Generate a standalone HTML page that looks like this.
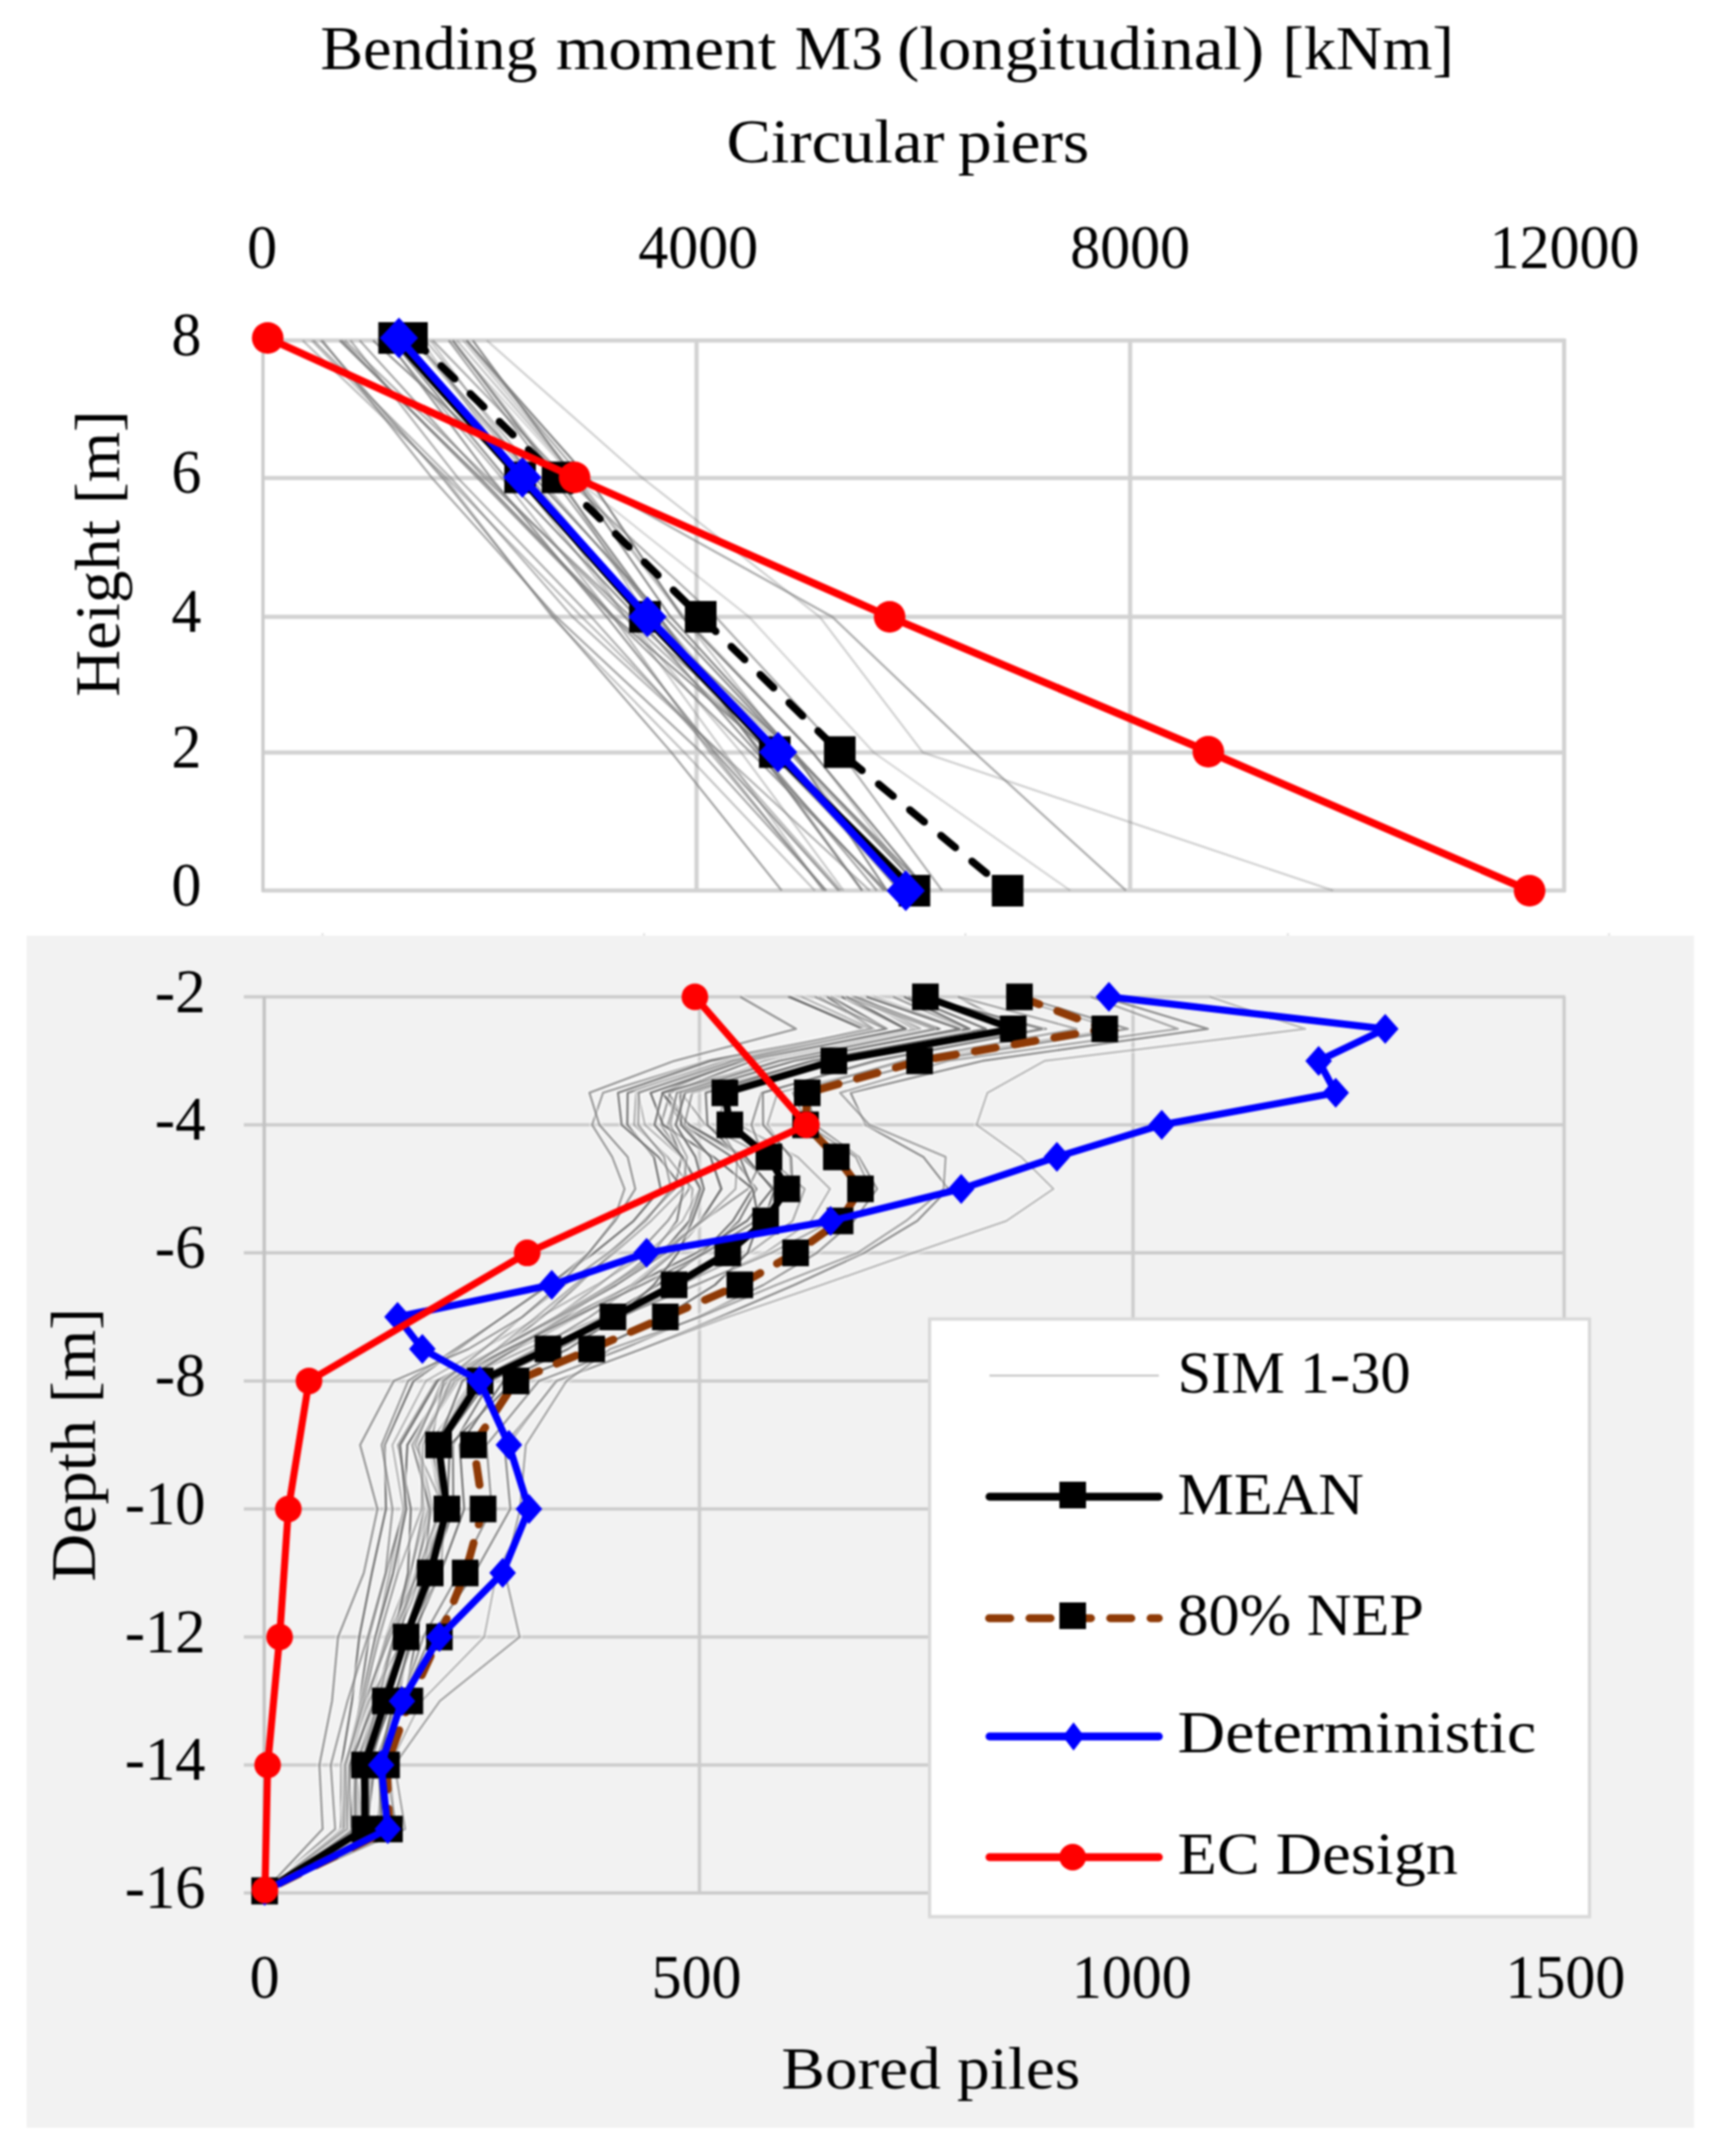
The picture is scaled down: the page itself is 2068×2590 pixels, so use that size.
<!DOCTYPE html><html><head><meta charset="utf-8"><title>Bending moment M3</title><style>html,body{margin:0;padding:0;background:#fff}svg{display:block;filter:blur(0.8px)}text{font-family:"Liberation Serif",serif;fill:#000}</style></head><body>
<svg width="2068" height="2590" viewBox="0 0 2068 2590">
<rect width="2068" height="2590" fill="#fff"/>
<rect x="32" y="1124" width="2003.5" height="1432" fill="#f2f2f2"/>
<rect x="386.5" y="1121" width="2" height="3" fill="#dcdcdc"/>
<rect x="773" y="1121" width="2" height="3" fill="#dcdcdc"/>
<rect x="1159" y="1121" width="2" height="3" fill="#dcdcdc"/>
<rect x="1546.5" y="1121" width="2" height="3" fill="#dcdcdc"/>
<rect x="1932.5" y="1121" width="2" height="3" fill="#dcdcdc"/>
<line x1="316" y1="409" x2="1881.0" y2="409" stroke="#d2d2d2" stroke-width="5"/>
<line x1="316" y1="574.3" x2="1881.0" y2="574.3" stroke="#d2d2d2" stroke-width="5"/>
<line x1="316" y1="741" x2="1881.0" y2="741" stroke="#d2d2d2" stroke-width="5"/>
<line x1="316" y1="904" x2="1881.0" y2="904" stroke="#d2d2d2" stroke-width="5"/>
<line x1="316" y1="1069.8" x2="1881.0" y2="1069.8" stroke="#d2d2d2" stroke-width="5"/>
<line x1="316" y1="407" x2="316" y2="1071.8" stroke="#cccccc" stroke-width="4"/>
<line x1="837" y1="407" x2="837" y2="1071.8" stroke="#d2d2d2" stroke-width="5"/>
<line x1="1358" y1="407" x2="1358" y2="1071.8" stroke="#d2d2d2" stroke-width="5"/>
<line x1="1879.5" y1="407" x2="1879.5" y2="1071.8" stroke="#d2d2d2" stroke-width="5"/>
<line x1="293" y1="1197.5" x2="1881.0" y2="1197.5" stroke="#cccccc" stroke-width="4"/>
<line x1="293" y1="1351.3" x2="1881.0" y2="1351.3" stroke="#cccccc" stroke-width="4"/>
<line x1="293" y1="1505.1" x2="1881.0" y2="1505.1" stroke="#cccccc" stroke-width="4"/>
<line x1="293" y1="1658.9" x2="1881.0" y2="1658.9" stroke="#cccccc" stroke-width="4"/>
<line x1="293" y1="1812.7" x2="1881.0" y2="1812.7" stroke="#cccccc" stroke-width="4"/>
<line x1="293" y1="1966.5" x2="1881.0" y2="1966.5" stroke="#cccccc" stroke-width="4"/>
<line x1="293" y1="2120.3" x2="1881.0" y2="2120.3" stroke="#cccccc" stroke-width="4"/>
<line x1="293" y1="2274.1000000000004" x2="1881.0" y2="2274.1000000000004" stroke="#cccccc" stroke-width="4"/>
<line x1="317.5" y1="1197.5" x2="317.5" y2="2274.1000000000004" stroke="#c2c2c2" stroke-width="4"/>
<line x1="840.5" y1="1197.5" x2="840.5" y2="2274.1000000000004" stroke="#cccccc" stroke-width="4"/>
<line x1="1361.5" y1="1197.5" x2="1361.5" y2="2274.1000000000004" stroke="#cccccc" stroke-width="4"/>
<line x1="1879.5" y1="1197.5" x2="1879.5" y2="2274.1000000000004" stroke="#cccccc" stroke-width="4"/>
<g stroke-linejoin="round" stroke-linecap="butt">
<polyline points="498.8,409.0 642.7,574.3 798.1,741.0 951.3,904.0 1115.3,1069.8" fill="none" stroke="#7a7a7a" stroke-width="2.6" stroke-opacity="0.80"/>
<polyline points="539.2,409.0 663.9,574.3 789.4,741.0 914.7,904.0 1053.7,1069.8" fill="none" stroke="#7a7a7a" stroke-width="2.6" stroke-opacity="0.65"/>
<polyline points="556.4,409.0 693.6,574.3 822.3,741.0 977.1,904.0 1104.6,1069.8" fill="none" stroke="#7a7a7a" stroke-width="2.6" stroke-opacity="0.37"/>
<polyline points="363.7,409.0 537.1,574.3 699.0,741.0 864.8,904.0 1010.6,1069.8" fill="none" stroke="#7a7a7a" stroke-width="2.6" stroke-opacity="0.49"/>
<polyline points="374.4,409.0 534.7,574.3 663.3,741.0 822.4,904.0 979.2,1069.8" fill="none" stroke="#7a7a7a" stroke-width="2.6" stroke-opacity="0.43"/>
<polyline points="432.2,409.0 582.4,574.3 757.9,741.0 940.0,904.0 1080.7,1069.8" fill="none" stroke="#7a7a7a" stroke-width="2.6" stroke-opacity="0.65"/>
<polyline points="496.4,409.0 637.9,574.3 775.0,741.0 947.8,904.0 1110.1,1069.8" fill="none" stroke="#7a7a7a" stroke-width="2.6" stroke-opacity="0.43"/>
<polyline points="544.6,409.0 673.1,574.3 777.6,741.0 915.8,904.0 1036.5,1069.8" fill="none" stroke="#7a7a7a" stroke-width="2.6" stroke-opacity="0.43"/>
<polyline points="463.5,409.0 603.0,574.3 736.9,741.0 853.1,904.0 992.6,1069.8" fill="none" stroke="#7a7a7a" stroke-width="2.6" stroke-opacity="0.52"/>
<polyline points="549.0,409.0 692.0,574.3 819.7,741.0 950.1,904.0 1085.7,1069.8" fill="none" stroke="#7a7a7a" stroke-width="2.6" stroke-opacity="0.43"/>
<polyline points="414.2,409.0 586.6,574.3 750.8,741.0 925.3,904.0 1088.6,1069.8" fill="none" stroke="#7a7a7a" stroke-width="2.6" stroke-opacity="0.56"/>
<polyline points="465.4,409.0 590.1,574.3 729.0,741.0 859.4,904.0 1007.8,1069.8" fill="none" stroke="#7a7a7a" stroke-width="2.6" stroke-opacity="0.76"/>
<polyline points="387.4,409.0 519.3,574.3 668.4,741.0 842.9,904.0 992.8,1069.8" fill="none" stroke="#7a7a7a" stroke-width="2.6" stroke-opacity="0.64"/>
<polyline points="544.0,409.0 669.5,574.3 792.2,741.0 912.9,904.0 1035.9,1069.8" fill="none" stroke="#7a7a7a" stroke-width="2.6" stroke-opacity="0.85"/>
<polyline points="408.1,409.0 577.4,574.3 737.8,741.0 926.5,904.0 1089.8,1069.8" fill="none" stroke="#7a7a7a" stroke-width="2.6" stroke-opacity="0.80"/>
<polyline points="376.9,409.0 542.0,574.3 688.1,741.0 865.5,904.0 1045.0,1069.8" fill="none" stroke="#7a7a7a" stroke-width="2.6" stroke-opacity="0.55"/>
<polyline points="421.2,409.0 550.3,574.3 710.4,741.0 856.8,904.0 990.4,1069.8" fill="none" stroke="#7a7a7a" stroke-width="2.6" stroke-opacity="0.59"/>
<polyline points="568.1,409.0 690.2,574.3 805.9,741.0 954.3,904.0 1065.7,1069.8" fill="none" stroke="#7a7a7a" stroke-width="2.6" stroke-opacity="0.83"/>
<polyline points="448.2,409.0 629.2,574.3 776.8,741.0 953.8,904.0 1108.6,1069.8" fill="none" stroke="#7a7a7a" stroke-width="2.6" stroke-opacity="0.79"/>
<polyline points="511.4,409.0 648.2,574.3 791.2,741.0 930.5,904.0 1081.0,1069.8" fill="none" stroke="#7a7a7a" stroke-width="2.6" stroke-opacity="0.47"/>
<polyline points="561.0,409.0 707.1,574.3 819.8,741.0 976.3,904.0 1114.1,1069.8" fill="none" stroke="#7a7a7a" stroke-width="2.6" stroke-opacity="0.88"/>
<polyline points="470.9,409.0 607.9,574.3 765.1,741.0 909.3,904.0 1062.4,1069.8" fill="none" stroke="#7a7a7a" stroke-width="2.6" stroke-opacity="0.80"/>
<polyline points="517.2,409.0 638.4,574.3 751.4,741.0 870.4,904.0 988.9,1069.8" fill="none" stroke="#7a7a7a" stroke-width="2.6" stroke-opacity="0.38"/>
<polyline points="385.5,409.0 531.7,574.3 665.1,741.0 806.9,904.0 939.3,1069.8" fill="none" stroke="#7a7a7a" stroke-width="2.6" stroke-opacity="0.67"/>
<polyline points="410.5,409.0 574.0,574.3 735.5,741.0 902.1,904.0 1065.3,1069.8" fill="none" stroke="#7a7a7a" stroke-width="2.6" stroke-opacity="0.71"/>
<polyline points="506.3,409.0 624.4,574.3 751.3,741.0 890.6,904.0 1013.6,1069.8" fill="none" stroke="#7a7a7a" stroke-width="2.6" stroke-opacity="0.38"/>
<polyline points="585.0,409.0 772.0,574.3 985.0,741.0 1109.0,904.0 1602.0,1069.8" fill="none" stroke="#7a7a7a" stroke-width="2.6" stroke-opacity="0.35"/>
<polyline points="560.0,409.0 700.0,574.3 1000.0,741.0 1171.0,904.0 1353.0,1069.8" fill="none" stroke="#7a7a7a" stroke-width="2.6" stroke-opacity="0.60"/>
<polyline points="540.0,409.0 690.0,574.3 900.0,741.0 1050.0,904.0 1286.0,1069.8" fill="none" stroke="#7a7a7a" stroke-width="2.6" stroke-opacity="0.30"/>
<polyline points="520.0,409.0 680.0,574.3 860.0,741.0 1010.0,904.0 1132.0,1069.8" fill="none" stroke="#7a7a7a" stroke-width="2.6" stroke-opacity="0.60"/>
</g>
<polyline points="473.6,406.0 625.0,573.5 775.0,741.0 931.0,903.5 1098.8,1070.0" fill="none" stroke="#000" stroke-width="9" stroke-linejoin="round"/>
<rect x="454.6" y="387.0" width="38" height="38" fill="#000"/>
<rect x="606.0" y="554.5" width="38" height="38" fill="#000"/>
<rect x="756.0" y="722.0" width="38" height="38" fill="#000"/>
<rect x="912.0" y="884.5" width="38" height="38" fill="#000"/>
<rect x="1079.8" y="1051.0" width="38" height="38" fill="#000"/>
<polyline points="495.0,406.0 670.0,573.5 842.0,741.0 1009.1,903.5 1210.8,1070.0" fill="none" stroke="#000" stroke-width="9" stroke-linecap="round" stroke-dasharray="22.5 26"/>
<rect x="476.0" y="387.0" width="38" height="38" fill="#000"/>
<rect x="651.0" y="554.5" width="38" height="38" fill="#000"/>
<rect x="823.0" y="722.0" width="38" height="38" fill="#000"/>
<rect x="990.1" y="884.5" width="38" height="38" fill="#000"/>
<rect x="1191.8" y="1051.0" width="38" height="38" fill="#000"/>
<polyline points="479.4,406.0 627.7,573.5 778.0,741.0 935.0,903.5 1088.4,1070.0" fill="none" stroke="#0000ff" stroke-width="9" stroke-linejoin="round"/>
<polygon points="479.4,381.5 502.4,406.0 479.4,430.5 456.4,406.0" fill="#0000ff"/>
<polygon points="627.7,549.0 650.7,573.5 627.7,598.0 604.7,573.5" fill="#0000ff"/>
<polygon points="778.0,716.5 801.0,741.0 778.0,765.5 755.0,741.0" fill="#0000ff"/>
<polygon points="935.0,879.0 958.0,903.5 935.0,928.0 912.0,903.5" fill="#0000ff"/>
<polygon points="1088.4,1045.5 1111.4,1070.0 1088.4,1094.5 1065.4,1070.0" fill="#0000ff"/>
<polyline points="321.7,406.0 690.4,573.5 1069.0,741.0 1452.0,903.0 1838.0,1070.0" fill="none" stroke="#ff0000" stroke-width="9" stroke-linejoin="round"/>
<circle cx="321.7" cy="406.0" r="19" fill="#ff0000"/>
<circle cx="690.4" cy="573.5" r="19" fill="#ff0000"/>
<circle cx="1069.0" cy="741.0" r="19" fill="#ff0000"/>
<circle cx="1452.0" cy="903.0" r="19" fill="#ff0000"/>
<circle cx="1838.0" cy="1070.0" r="19" fill="#ff0000"/>
<g stroke-linejoin="round">
<polyline points="997.9,1197.5 1066.1,1236.0 869.6,1274.4 754.2,1312.8 753.8,1351.3 785.8,1389.8 793.9,1428.2 761.3,1466.7 713.9,1505.1 658.4,1543.5 604.0,1582.0 551.3,1620.5 496.9,1658.9 462.3,1735.8 463.8,1812.7 446.9,1889.6 431.7,1966.5 423.0,2043.4 410.2,2120.3 409.9,2197.2 318.0,2271.5" fill="none" stroke="#fff" stroke-width="7" stroke-opacity="0.4"/>
<polyline points="997.9,1197.5 1066.1,1236.0 869.6,1274.4 754.2,1312.8 753.8,1351.3 785.8,1389.8 793.9,1428.2 761.3,1466.7 713.9,1505.1 658.4,1543.5 604.0,1582.0 551.3,1620.5 496.9,1658.9 462.3,1735.8 463.8,1812.7 446.9,1889.6 431.7,1966.5 423.0,2043.4 410.2,2120.3 409.9,2197.2 318.0,2271.5" fill="none" stroke="#686868" stroke-width="2.6" stroke-opacity="0.90"/>
<polyline points="1050.2,1197.5 1157.6,1236.0 968.7,1274.4 860.5,1312.8 887.8,1351.3 958.4,1389.8 997.4,1428.2 974.7,1466.7 919.5,1505.1 837.8,1543.5 746.4,1582.0 655.0,1620.5 567.4,1658.9 515.4,1735.8 530.6,1812.7 520.4,1889.6 491.0,1966.5 453.9,2043.4 418.7,2120.3 408.8,2197.2 318.0,2271.5" fill="none" stroke="#fff" stroke-width="7" stroke-opacity="0.4"/>
<polyline points="1050.2,1197.5 1157.6,1236.0 968.7,1274.4 860.5,1312.8 887.8,1351.3 958.4,1389.8 997.4,1428.2 974.7,1466.7 919.5,1505.1 837.8,1543.5 746.4,1582.0 655.0,1620.5 567.4,1658.9 515.4,1735.8 530.6,1812.7 520.4,1889.6 491.0,1966.5 453.9,2043.4 418.7,2120.3 408.8,2197.2 318.0,2271.5" fill="none" stroke="#686868" stroke-width="2.6" stroke-opacity="0.46"/>
<polyline points="1011.2,1197.5 1087.6,1236.0 904.4,1274.4 803.1,1312.8 826.6,1351.3 891.2,1389.8 930.7,1428.2 918.2,1466.7 879.7,1505.1 819.2,1543.5 747.9,1582.0 670.1,1620.5 586.0,1658.9 530.2,1735.8 534.3,1812.7 508.8,1889.6 476.6,1966.5 450.4,2043.4 427.7,2120.3 436.2,2197.2 318.0,2271.5" fill="none" stroke="#fff" stroke-width="7" stroke-opacity="0.4"/>
<polyline points="1011.2,1197.5 1087.6,1236.0 904.4,1274.4 803.1,1312.8 826.6,1351.3 891.2,1389.8 930.7,1428.2 918.2,1466.7 879.7,1505.1 819.2,1543.5 747.9,1582.0 670.1,1620.5 586.0,1658.9 530.2,1735.8 534.3,1812.7 508.8,1889.6 476.6,1966.5 450.4,2043.4 427.7,2120.3 436.2,2197.2 318.0,2271.5" fill="none" stroke="#686868" stroke-width="2.6" stroke-opacity="0.87"/>
<polyline points="947.0,1197.5 1042.0,1236.0 885.9,1274.4 795.9,1312.8 820.7,1351.3 879.7,1389.8 909.1,1428.2 888.0,1466.7 846.6,1505.1 790.0,1543.5 728.7,1582.0 663.3,1620.5 590.1,1658.9 544.2,1735.8 544.8,1812.7 519.2,1889.6 500.3,1966.5 485.9,2043.4 460.3,2120.3 456.7,2197.2 318.0,2271.5" fill="none" stroke="#fff" stroke-width="7" stroke-opacity="0.4"/>
<polyline points="947.0,1197.5 1042.0,1236.0 885.9,1274.4 795.9,1312.8 820.7,1351.3 879.7,1389.8 909.1,1428.2 888.0,1466.7 846.6,1505.1 790.0,1543.5 728.7,1582.0 663.3,1620.5 590.1,1658.9 544.2,1735.8 544.8,1812.7 519.2,1889.6 500.3,1966.5 485.9,2043.4 460.3,2120.3 456.7,2197.2 318.0,2271.5" fill="none" stroke="#686868" stroke-width="2.6" stroke-opacity="0.84"/>
<polyline points="1213.4,1197.5 1341.5,1236.0 1093.7,1274.4 934.2,1312.8 922.0,1351.3 949.0,1389.8 950.7,1428.2 914.7,1466.7 870.0,1505.1 811.6,1543.5 741.8,1582.0 662.4,1620.5 576.6,1658.9 519.8,1735.8 526.5,1812.7 507.2,1889.6 477.1,1966.5 448.1,2043.4 421.6,2120.3 422.7,2197.2 318.0,2271.5" fill="none" stroke="#fff" stroke-width="7" stroke-opacity="0.4"/>
<polyline points="1213.4,1197.5 1341.5,1236.0 1093.7,1274.4 934.2,1312.8 922.0,1351.3 949.0,1389.8 950.7,1428.2 914.7,1466.7 870.0,1505.1 811.6,1543.5 741.8,1582.0 662.4,1620.5 576.6,1658.9 519.8,1735.8 526.5,1812.7 507.2,1889.6 477.1,1966.5 448.1,2043.4 421.6,2120.3 422.7,2197.2 318.0,2271.5" fill="none" stroke="#686868" stroke-width="2.6" stroke-opacity="0.49"/>
<polyline points="1073.3,1197.5 1162.0,1236.0 942.1,1274.4 805.1,1312.8 794.1,1351.3 820.2,1389.8 828.0,1428.2 802.4,1466.7 766.7,1505.1 720.4,1543.5 667.7,1582.0 608.1,1620.5 540.0,1658.9 489.5,1735.8 485.8,1812.7 468.1,1889.6 451.5,1966.5 440.7,2043.4 428.4,2120.3 433.4,2197.2 318.0,2271.5" fill="none" stroke="#fff" stroke-width="7" stroke-opacity="0.4"/>
<polyline points="1073.3,1197.5 1162.0,1236.0 942.1,1274.4 805.1,1312.8 794.1,1351.3 820.2,1389.8 828.0,1428.2 802.4,1466.7 766.7,1505.1 720.4,1543.5 667.7,1582.0 608.1,1620.5 540.0,1658.9 489.5,1735.8 485.8,1812.7 468.1,1889.6 451.5,1966.5 440.7,2043.4 428.4,2120.3 433.4,2197.2 318.0,2271.5" fill="none" stroke="#686868" stroke-width="2.6" stroke-opacity="0.64"/>
<polyline points="948.9,1197.5 1037.0,1236.0 880.8,1274.4 795.6,1312.8 828.2,1351.3 896.2,1389.8 928.1,1428.2 897.5,1466.7 837.3,1505.1 760.4,1543.5 683.6,1582.0 611.6,1620.5 541.7,1658.9 503.1,1735.8 515.6,1812.7 499.5,1889.6 479.2,1966.5 465.9,2043.4 446.0,2120.3 440.3,2197.2 318.0,2271.5" fill="none" stroke="#fff" stroke-width="7" stroke-opacity="0.4"/>
<polyline points="948.9,1197.5 1037.0,1236.0 880.8,1274.4 795.6,1312.8 828.2,1351.3 896.2,1389.8 928.1,1428.2 897.5,1466.7 837.3,1505.1 760.4,1543.5 683.6,1582.0 611.6,1620.5 541.7,1658.9 503.1,1735.8 515.6,1812.7 499.5,1889.6 479.2,1966.5 465.9,2043.4 446.0,2120.3 440.3,2197.2 318.0,2271.5" fill="none" stroke="#686868" stroke-width="2.6" stroke-opacity="0.94"/>
<polyline points="1023.6,1197.5 1129.7,1236.0 938.7,1274.4 813.5,1312.8 802.6,1351.3 818.7,1389.8 810.6,1428.2 773.5,1466.7 735.1,1505.1 694.7,1543.5 651.7,1582.0 600.6,1620.5 537.6,1658.9 489.5,1735.8 485.4,1812.7 464.0,1889.6 443.4,1966.5 432.2,2043.4 423.0,2120.3 430.6,2197.2 318.0,2271.5" fill="none" stroke="#fff" stroke-width="7" stroke-opacity="0.4"/>
<polyline points="1023.6,1197.5 1129.7,1236.0 938.7,1274.4 813.5,1312.8 802.6,1351.3 818.7,1389.8 810.6,1428.2 773.5,1466.7 735.1,1505.1 694.7,1543.5 651.7,1582.0 600.6,1620.5 537.6,1658.9 489.5,1735.8 485.4,1812.7 464.0,1889.6 443.4,1966.5 432.2,2043.4 423.0,2120.3 430.6,2197.2 318.0,2271.5" fill="none" stroke="#686868" stroke-width="2.6" stroke-opacity="0.84"/>
<polyline points="1030.0,1197.5 1098.9,1236.0 888.8,1274.4 764.4,1312.8 762.1,1351.3 802.1,1389.8 832.2,1428.2 829.2,1466.7 806.6,1505.1 758.8,1543.5 694.1,1582.0 621.2,1620.5 546.1,1658.9 503.6,1735.8 519.5,1812.7 499.0,1889.6 465.8,1966.5 444.9,2043.4 426.2,2120.3 426.1,2197.2 318.0,2271.5" fill="none" stroke="#fff" stroke-width="7" stroke-opacity="0.4"/>
<polyline points="1030.0,1197.5 1098.9,1236.0 888.8,1274.4 764.4,1312.8 762.1,1351.3 802.1,1389.8 832.2,1428.2 829.2,1466.7 806.6,1505.1 758.8,1543.5 694.1,1582.0 621.2,1620.5 546.1,1658.9 503.6,1735.8 519.5,1812.7 499.0,1889.6 465.8,1966.5 444.9,2043.4 426.2,2120.3 426.1,2197.2 318.0,2271.5" fill="none" stroke="#686868" stroke-width="2.6" stroke-opacity="0.53"/>
<polyline points="1033.4,1197.5 1106.0,1236.0 919.0,1274.4 818.5,1312.8 847.7,1351.3 920.8,1389.8 967.0,1428.2 952.4,1466.7 900.1,1505.1 817.0,1543.5 723.6,1582.0 633.3,1620.5 550.1,1658.9 503.0,1735.8 514.0,1812.7 492.8,1889.6 463.5,1966.5 441.8,2043.4 420.4,2120.3 419.5,2197.2 318.0,2271.5" fill="none" stroke="#fff" stroke-width="7" stroke-opacity="0.4"/>
<polyline points="1033.4,1197.5 1106.0,1236.0 919.0,1274.4 818.5,1312.8 847.7,1351.3 920.8,1389.8 967.0,1428.2 952.4,1466.7 900.1,1505.1 817.0,1543.5 723.6,1582.0 633.3,1620.5 550.1,1658.9 503.0,1735.8 514.0,1812.7 492.8,1889.6 463.5,1966.5 441.8,2043.4 420.4,2120.3 419.5,2197.2 318.0,2271.5" fill="none" stroke="#686868" stroke-width="2.6" stroke-opacity="0.53"/>
<polyline points="1151.1,1197.5 1222.3,1236.0 977.0,1274.4 831.7,1312.8 822.4,1351.3 853.6,1389.8 865.9,1428.2 843.5,1466.7 810.0,1505.1 763.7,1543.5 708.6,1582.0 644.3,1620.5 570.3,1658.9 521.4,1735.8 529.1,1812.7 512.2,1889.6 484.0,1966.5 454.4,2043.4 427.2,2120.3 429.8,2197.2 318.0,2271.5" fill="none" stroke="#fff" stroke-width="7" stroke-opacity="0.4"/>
<polyline points="1151.1,1197.5 1222.3,1236.0 977.0,1274.4 831.7,1312.8 822.4,1351.3 853.6,1389.8 865.9,1428.2 843.5,1466.7 810.0,1505.1 763.7,1543.5 708.6,1582.0 644.3,1620.5 570.3,1658.9 521.4,1735.8 529.1,1812.7 512.2,1889.6 484.0,1966.5 454.4,2043.4 427.2,2120.3 429.8,2197.2 318.0,2271.5" fill="none" stroke="#686868" stroke-width="2.6" stroke-opacity="0.63"/>
<polyline points="984.6,1197.5 1050.6,1236.0 848.9,1274.4 724.6,1312.8 711.5,1351.3 735.6,1389.8 750.5,1428.2 737.1,1466.7 707.6,1505.1 660.4,1543.5 604.7,1582.0 547.1,1620.5 490.4,1658.9 458.6,1735.8 471.7,1812.7 463.3,1889.6 441.9,1966.5 417.6,2043.4 397.5,2120.3 402.8,2197.2 318.0,2271.5" fill="none" stroke="#fff" stroke-width="7" stroke-opacity="0.4"/>
<polyline points="984.6,1197.5 1050.6,1236.0 848.9,1274.4 724.6,1312.8 711.5,1351.3 735.6,1389.8 750.5,1428.2 737.1,1466.7 707.6,1505.1 660.4,1543.5 604.7,1582.0 547.1,1620.5 490.4,1658.9 458.6,1735.8 471.7,1812.7 463.3,1889.6 441.9,1966.5 417.6,2043.4 397.5,2120.3 402.8,2197.2 318.0,2271.5" fill="none" stroke="#686868" stroke-width="2.6" stroke-opacity="0.63"/>
<polyline points="1107.2,1197.5 1257.2,1236.0 1055.0,1274.4 914.8,1312.8 902.9,1351.3 917.3,1389.8 898.8,1428.2 844.5,1466.7 789.1,1505.1 732.1,1543.5 674.7,1582.0 613.9,1620.5 546.3,1658.9 503.0,1735.8 509.4,1812.7 493.3,1889.6 473.4,1966.5 453.6,2043.4 427.5,2120.3 422.0,2197.2 318.0,2271.5" fill="none" stroke="#fff" stroke-width="7" stroke-opacity="0.4"/>
<polyline points="1107.2,1197.5 1257.2,1236.0 1055.0,1274.4 914.8,1312.8 902.9,1351.3 917.3,1389.8 898.8,1428.2 844.5,1466.7 789.1,1505.1 732.1,1543.5 674.7,1582.0 613.9,1620.5 546.3,1658.9 503.0,1735.8 509.4,1812.7 493.3,1889.6 473.4,1966.5 453.6,2043.4 427.5,2120.3 422.0,2197.2 318.0,2271.5" fill="none" stroke="#686868" stroke-width="2.6" stroke-opacity="0.66"/>
<polyline points="993.9,1197.5 1049.4,1236.0 853.9,1274.4 742.6,1312.8 747.0,1351.3 791.1,1389.8 821.0,1428.2 813.4,1466.7 784.9,1505.1 736.0,1543.5 678.6,1582.0 618.8,1620.5 555.6,1658.9 525.2,1735.8 535.9,1812.7 502.7,1889.6 465.4,1966.5 439.9,2043.4 418.9,2120.3 422.4,2197.2 318.0,2271.5" fill="none" stroke="#fff" stroke-width="7" stroke-opacity="0.4"/>
<polyline points="993.9,1197.5 1049.4,1236.0 853.9,1274.4 742.6,1312.8 747.0,1351.3 791.1,1389.8 821.0,1428.2 813.4,1466.7 784.9,1505.1 736.0,1543.5 678.6,1582.0 618.8,1620.5 555.6,1658.9 525.2,1735.8 535.9,1812.7 502.7,1889.6 465.4,1966.5 439.9,2043.4 418.9,2120.3 422.4,2197.2 318.0,2271.5" fill="none" stroke="#686868" stroke-width="2.6" stroke-opacity="0.84"/>
<polyline points="963.2,1197.5 1047.0,1236.0 871.7,1274.4 766.7,1312.8 774.9,1351.3 818.3,1389.8 840.6,1428.2 820.2,1466.7 778.1,1505.1 717.2,1543.5 648.8,1582.0 579.5,1620.5 511.9,1658.9 471.5,1735.8 484.7,1812.7 477.3,1889.6 456.6,1966.5 434.6,2043.4 413.4,2120.3 414.9,2197.2 318.0,2271.5" fill="none" stroke="#fff" stroke-width="7" stroke-opacity="0.4"/>
<polyline points="963.2,1197.5 1047.0,1236.0 871.7,1274.4 766.7,1312.8 774.9,1351.3 818.3,1389.8 840.6,1428.2 820.2,1466.7 778.1,1505.1 717.2,1543.5 648.8,1582.0 579.5,1620.5 511.9,1658.9 471.5,1735.8 484.7,1812.7 477.3,1889.6 456.6,1966.5 434.6,2043.4 413.4,2120.3 414.9,2197.2 318.0,2271.5" fill="none" stroke="#686868" stroke-width="2.6" stroke-opacity="0.43"/>
<polyline points="1091.4,1197.5 1184.7,1236.0 975.2,1274.4 848.0,1312.8 850.1,1351.3 888.8,1389.8 904.2,1428.2 880.7,1466.7 843.8,1505.1 790.8,1543.5 726.9,1582.0 654.7,1620.5 576.1,1658.9 527.3,1735.8 534.2,1812.7 513.0,1889.6 492.7,1966.5 477.8,2043.4 449.9,2120.3 441.1,2197.2 318.0,2271.5" fill="none" stroke="#fff" stroke-width="7" stroke-opacity="0.4"/>
<polyline points="1091.4,1197.5 1184.7,1236.0 975.2,1274.4 848.0,1312.8 850.1,1351.3 888.8,1389.8 904.2,1428.2 880.7,1466.7 843.8,1505.1 790.8,1543.5 726.9,1582.0 654.7,1620.5 576.1,1658.9 527.3,1735.8 534.2,1812.7 513.0,1889.6 492.7,1966.5 477.8,2043.4 449.9,2120.3 441.1,2197.2 318.0,2271.5" fill="none" stroke="#686868" stroke-width="2.6" stroke-opacity="0.88"/>
<polyline points="1017.6,1197.5 1088.5,1236.0 892.3,1274.4 781.7,1312.8 796.7,1351.3 857.4,1389.8 904.6,1428.2 911.9,1466.7 898.4,1505.1 859.2,1543.5 797.9,1582.0 715.8,1620.5 617.4,1658.9 540.6,1735.8 537.1,1812.7 520.3,1889.6 497.8,1966.5 470.9,2043.4 441.6,2120.3 443.7,2197.2 318.0,2271.5" fill="none" stroke="#fff" stroke-width="7" stroke-opacity="0.4"/>
<polyline points="1017.6,1197.5 1088.5,1236.0 892.3,1274.4 781.7,1312.8 796.7,1351.3 857.4,1389.8 904.6,1428.2 911.9,1466.7 898.4,1505.1 859.2,1543.5 797.9,1582.0 715.8,1620.5 617.4,1658.9 540.6,1735.8 537.1,1812.7 520.3,1889.6 497.8,1966.5 470.9,2043.4 441.6,2120.3 443.7,2197.2 318.0,2271.5" fill="none" stroke="#686868" stroke-width="2.6" stroke-opacity="0.93"/>
<polyline points="1086.4,1197.5 1165.1,1236.0 935.8,1274.4 796.2,1312.8 786.5,1351.3 820.3,1389.8 841.9,1428.2 828.4,1466.7 795.3,1505.1 739.9,1543.5 671.5,1582.0 597.7,1620.5 523.8,1658.9 478.2,1735.8 493.7,1812.7 490.3,1889.6 473.0,1966.5 450.1,2043.4 420.4,2120.3 416.2,2197.2 318.0,2271.5" fill="none" stroke="#fff" stroke-width="7" stroke-opacity="0.4"/>
<polyline points="1086.4,1197.5 1165.1,1236.0 935.8,1274.4 796.2,1312.8 786.5,1351.3 820.3,1389.8 841.9,1428.2 828.4,1466.7 795.3,1505.1 739.9,1543.5 671.5,1582.0 597.7,1620.5 523.8,1658.9 478.2,1735.8 493.7,1812.7 490.3,1889.6 473.0,1966.5 450.1,2043.4 420.4,2120.3 416.2,2197.2 318.0,2271.5" fill="none" stroke="#686868" stroke-width="2.6" stroke-opacity="0.89"/>
<polyline points="1227.7,1197.5 1355.4,1236.0 1115.8,1274.4 969.7,1312.8 979.2,1351.3 1032.1,1389.8 1053.9,1428.2 1025.9,1466.7 981.6,1505.1 917.5,1543.5 838.9,1582.0 748.1,1620.5 647.7,1658.9 584.6,1735.8 590.9,1812.7 551.8,1889.6 508.6,1966.5 483.5,2043.4 459.2,2120.3 453.8,2197.2 318.0,2271.5" fill="none" stroke="#fff" stroke-width="7" stroke-opacity="0.4"/>
<polyline points="1227.7,1197.5 1355.4,1236.0 1115.8,1274.4 969.7,1312.8 979.2,1351.3 1032.1,1389.8 1053.9,1428.2 1025.9,1466.7 981.6,1505.1 917.5,1543.5 838.9,1582.0 748.1,1620.5 647.7,1658.9 584.6,1735.8 590.9,1812.7 551.8,1889.6 508.6,1966.5 483.5,2043.4 459.2,2120.3 453.8,2197.2 318.0,2271.5" fill="none" stroke="#686868" stroke-width="2.6" stroke-opacity="0.68"/>
<polyline points="1026.4,1197.5 1127.8,1236.0 937.1,1274.4 817.5,1312.8 818.4,1351.3 853.8,1389.8 867.0,1428.2 841.5,1466.7 799.8,1505.1 740.4,1543.5 671.2,1582.0 598.4,1620.5 525.9,1658.9 480.8,1735.8 488.2,1812.7 472.4,1889.6 451.0,1966.5 434.4,2043.4 414.8,2120.3 414.6,2197.2 318.0,2271.5" fill="none" stroke="#fff" stroke-width="7" stroke-opacity="0.4"/>
<polyline points="1026.4,1197.5 1127.8,1236.0 937.1,1274.4 817.5,1312.8 818.4,1351.3 853.8,1389.8 867.0,1428.2 841.5,1466.7 799.8,1505.1 740.4,1543.5 671.2,1582.0 598.4,1620.5 525.9,1658.9 480.8,1735.8 488.2,1812.7 472.4,1889.6 451.0,1966.5 434.4,2043.4 414.8,2120.3 414.6,2197.2 318.0,2271.5" fill="none" stroke="#686868" stroke-width="2.6" stroke-opacity="0.90"/>
<polyline points="1110.7,1197.5 1251.7,1236.0 1050.0,1274.4 916.7,1312.8 917.0,1351.3 950.7,1389.8 952.6,1428.2 908.3,1466.7 847.3,1505.1 771.0,1543.5 689.9,1582.0 610.8,1620.5 535.8,1658.9 495.5,1735.8 516.7,1812.7 510.4,1889.6 485.9,1966.5 457.7,2043.4 428.1,2120.3 426.2,2197.2 318.0,2271.5" fill="none" stroke="#fff" stroke-width="7" stroke-opacity="0.4"/>
<polyline points="1110.7,1197.5 1251.7,1236.0 1050.0,1274.4 916.7,1312.8 917.0,1351.3 950.7,1389.8 952.6,1428.2 908.3,1466.7 847.3,1505.1 771.0,1543.5 689.9,1582.0 610.8,1620.5 535.8,1658.9 495.5,1735.8 516.7,1812.7 510.4,1889.6 485.9,1966.5 457.7,2043.4 428.1,2120.3 426.2,2197.2 318.0,2271.5" fill="none" stroke="#686868" stroke-width="2.6" stroke-opacity="0.74"/>
<polyline points="1041.2,1197.5 1153.0,1236.0 954.2,1274.4 823.2,1312.8 811.9,1351.3 835.6,1389.8 845.8,1428.2 831.9,1466.7 814.7,1505.1 785.7,1543.5 742.7,1582.0 682.6,1620.5 605.0,1658.9 552.3,1735.8 557.8,1812.7 529.4,1889.6 494.5,1966.5 473.1,2043.4 455.0,2120.3 459.0,2197.2 318.0,2271.5" fill="none" stroke="#fff" stroke-width="7" stroke-opacity="0.4"/>
<polyline points="1041.2,1197.5 1153.0,1236.0 954.2,1274.4 823.2,1312.8 811.9,1351.3 835.6,1389.8 845.8,1428.2 831.9,1466.7 814.7,1505.1 785.7,1543.5 742.7,1582.0 682.6,1620.5 605.0,1658.9 552.3,1735.8 557.8,1812.7 529.4,1889.6 494.5,1966.5 473.1,2043.4 455.0,2120.3 459.0,2197.2 318.0,2271.5" fill="none" stroke="#686868" stroke-width="2.6" stroke-opacity="0.89"/>
<polyline points="1102.5,1197.5 1221.1,1236.0 1009.9,1274.4 871.8,1312.8 862.5,1351.3 886.0,1389.8 883.8,1428.2 844.2,1466.7 794.6,1505.1 733.5,1543.5 667.3,1582.0 599.2,1620.5 531.1,1658.9 499.0,1735.8 533.9,1812.7 529.9,1889.6 486.5,1966.5 443.2,2043.4 413.1,2120.3 413.7,2197.2 318.0,2271.5" fill="none" stroke="#fff" stroke-width="7" stroke-opacity="0.4"/>
<polyline points="1102.5,1197.5 1221.1,1236.0 1009.9,1274.4 871.8,1312.8 862.5,1351.3 886.0,1389.8 883.8,1428.2 844.2,1466.7 794.6,1505.1 733.5,1543.5 667.3,1582.0 599.2,1620.5 531.1,1658.9 499.0,1735.8 533.9,1812.7 529.9,1889.6 486.5,1966.5 443.2,2043.4 413.1,2120.3 413.7,2197.2 318.0,2271.5" fill="none" stroke="#686868" stroke-width="2.6" stroke-opacity="0.51"/>
<polyline points="979.1,1197.5 1064.1,1236.0 880.5,1274.4 767.7,1312.8 766.9,1351.3 798.0,1389.8 806.5,1428.2 776.0,1466.7 731.2,1505.1 678.3,1543.5 627.9,1582.0 581.4,1620.5 532.8,1658.9 517.5,1735.8 536.5,1812.7 507.8,1889.6 468.4,1966.5 438.4,2043.4 414.1,2120.3 412.8,2197.2 318.0,2271.5" fill="none" stroke="#fff" stroke-width="7" stroke-opacity="0.4"/>
<polyline points="979.1,1197.5 1064.1,1236.0 880.5,1274.4 767.7,1312.8 766.9,1351.3 798.0,1389.8 806.5,1428.2 776.0,1466.7 731.2,1505.1 678.3,1543.5 627.9,1582.0 581.4,1620.5 532.8,1658.9 517.5,1735.8 536.5,1812.7 507.8,1889.6 468.4,1966.5 438.4,2043.4 414.1,2120.3 412.8,2197.2 318.0,2271.5" fill="none" stroke="#686868" stroke-width="2.6" stroke-opacity="0.59"/>
<polyline points="1324.5,1197.5 1451.5,1236.0 1180.5,1274.4 1022.1,1312.8 1040.1,1351.3 1109.5,1389.8 1139.6,1428.2 1102.2,1466.7 1038.1,1505.1 954.7,1543.5 865.2,1582.0 771.5,1620.5 669.4,1658.9 606.1,1735.8 613.3,1812.7 570.3,1889.6 517.2,1966.5 483.2,2043.4 462.0,2120.3 477.2,2197.2 318.0,2271.5" fill="none" stroke="#fff" stroke-width="7" stroke-opacity="0.4"/>
<polyline points="1324.5,1197.5 1451.5,1236.0 1180.5,1274.4 1022.1,1312.8 1040.1,1351.3 1109.5,1389.8 1139.6,1428.2 1102.2,1466.7 1038.1,1505.1 954.7,1543.5 865.2,1582.0 771.5,1620.5 669.4,1658.9 606.1,1735.8 613.3,1812.7 570.3,1889.6 517.2,1966.5 483.2,2043.4 462.0,2120.3 477.2,2197.2 318.0,2271.5" fill="none" stroke="#686868" stroke-width="2.6" stroke-opacity="0.73"/>
<polyline points="1016.2,1197.5 1122.1,1236.0 935.3,1274.4 813.4,1312.8 805.6,1351.3 825.5,1389.8 820.5,1428.2 782.3,1466.7 738.2,1505.1 690.6,1543.5 644.4,1582.0 596.9,1620.5 541.8,1658.9 508.1,1735.8 506.7,1812.7 478.3,1889.6 455.1,1966.5 437.0,2043.4 415.5,2120.3 417.4,2197.2 318.0,2271.5" fill="none" stroke="#fff" stroke-width="7" stroke-opacity="0.4"/>
<polyline points="1016.2,1197.5 1122.1,1236.0 935.3,1274.4 813.4,1312.8 805.6,1351.3 825.5,1389.8 820.5,1428.2 782.3,1466.7 738.2,1505.1 690.6,1543.5 644.4,1582.0 596.9,1620.5 541.8,1658.9 508.1,1735.8 506.7,1812.7 478.3,1889.6 455.1,1966.5 437.0,2043.4 415.5,2120.3 417.4,2197.2 318.0,2271.5" fill="none" stroke="#686868" stroke-width="2.6" stroke-opacity="0.50"/>
<polyline points="1152.2,1197.5 1293.7,1236.0 1083.4,1274.4 952.6,1312.8 970.2,1351.3 1028.2,1389.8 1046.3,1428.2 999.9,1466.7 926.8,1505.1 835.7,1543.5 743.6,1582.0 656.9,1620.5 574.0,1658.9 525.6,1735.8 529.4,1812.7 501.2,1889.6 473.6,1966.5 454.4,2043.4 433.9,2120.3 436.9,2197.2 318.0,2271.5" fill="none" stroke="#fff" stroke-width="7" stroke-opacity="0.4"/>
<polyline points="1152.2,1197.5 1293.7,1236.0 1083.4,1274.4 952.6,1312.8 970.2,1351.3 1028.2,1389.8 1046.3,1428.2 999.9,1466.7 926.8,1505.1 835.7,1543.5 743.6,1582.0 656.9,1620.5 574.0,1658.9 525.6,1735.8 529.4,1812.7 501.2,1889.6 473.6,1966.5 454.4,2043.4 433.9,2120.3 436.9,2197.2 318.0,2271.5" fill="none" stroke="#686868" stroke-width="2.6" stroke-opacity="0.56"/>
<polyline points="1453.6,1197.5 1568.5,1236.0 1255.3,1274.4 1186.5,1312.8 1173.5,1351.3 1227.2,1389.8 1265.8,1428.2 1209.2,1466.7 1097.3,1505.1 987.3,1543.5 874.8,1582.0 771.0,1620.5 667.8,1658.9 610.8,1735.8 635.8,1812.7 596.8,1889.6 581.8,1966.5 506.6,2043.4 468.1,2120.3 474.8,2197.2 318.0,2271.5" fill="none" stroke="#fff" stroke-width="7" stroke-opacity="0.4"/>
<polyline points="1453.6,1197.5 1568.5,1236.0 1255.3,1274.4 1186.5,1312.8 1173.5,1351.3 1227.2,1389.8 1265.8,1428.2 1209.2,1466.7 1097.3,1505.1 987.3,1543.5 874.8,1582.0 771.0,1620.5 667.8,1658.9 610.8,1735.8 635.8,1812.7 596.8,1889.6 581.8,1966.5 506.6,2043.4 468.1,2120.3 474.8,2197.2 318.0,2271.5" fill="none" stroke="#686868" stroke-width="2.6" stroke-opacity="0.42"/>
<polyline points="889.5,1197.5 956.5,1236.0 810.3,1274.4 708.3,1312.8 720.3,1351.3 754.2,1389.8 763.4,1428.2 739.2,1466.7 707.4,1505.1 672.1,1543.5 627.6,1582.0 563.0,1620.5 473.2,1658.9 432.7,1735.8 453.6,1812.7 437.2,1889.6 406.2,1966.5 399.0,2043.4 383.8,2120.3 387.7,2197.2 318.0,2271.5" fill="none" stroke="#fff" stroke-width="7" stroke-opacity="0.4"/>
<polyline points="889.5,1197.5 956.5,1236.0 810.3,1274.4 708.3,1312.8 720.3,1351.3 754.2,1389.8 763.4,1428.2 739.2,1466.7 707.4,1505.1 672.1,1543.5 627.6,1582.0 563.0,1620.5 473.2,1658.9 432.7,1735.8 453.6,1812.7 437.2,1889.6 406.2,1966.5 399.0,2043.4 383.8,2120.3 387.7,2197.2 318.0,2271.5" fill="none" stroke="#686868" stroke-width="2.6" stroke-opacity="0.67"/>
<polyline points="1310.6,1197.5 1415.5,1236.0 1138.9,1274.4 1009.4,1312.8 1044.8,1351.3 1136.3,1389.8 1133.9,1428.2 1088.7,1466.7 1030.5,1505.1 933.1,1543.5 841.2,1582.0 733.5,1620.5 680.8,1658.9 631.8,1735.8 624.8,1812.7 606.8,1889.6 624.4,1966.5 528.5,2043.4 474.1,2120.3 486.9,2197.2 318.0,2271.5" fill="none" stroke="#fff" stroke-width="7" stroke-opacity="0.4"/>
<polyline points="1310.6,1197.5 1415.5,1236.0 1138.9,1274.4 1009.4,1312.8 1044.8,1351.3 1136.3,1389.8 1133.9,1428.2 1088.7,1466.7 1030.5,1505.1 933.1,1543.5 841.2,1582.0 733.5,1620.5 680.8,1658.9 631.8,1735.8 624.8,1812.7 606.8,1889.6 624.4,1966.5 528.5,2043.4 474.1,2120.3 486.9,2197.2 318.0,2271.5" fill="none" stroke="#686868" stroke-width="2.6" stroke-opacity="0.57"/>
</g>
<polyline points="1112.0,1197.5 1217.5,1236.0 1002.0,1274.4 871.0,1312.8 877.0,1351.3 924.0,1389.8 945.5,1428.2 920.0,1466.7 874.5,1505.1 810.0,1543.5 736.5,1582.0 658.5,1620.5 577.0,1658.9 527.0,1735.8 537.0,1812.7 517.0,1889.6 488.0,1966.5 463.0,2043.4 438.0,2120.3 438.5,2197.2 318.0,2271.5" fill="none" stroke="#000" stroke-width="8.5" stroke-linejoin="round"/>
<rect x="1096.0" y="1181.5" width="32" height="32" fill="#000"/>
<rect x="1201.5" y="1220.0" width="32" height="32" fill="#000"/>
<rect x="986.0" y="1258.4" width="32" height="32" fill="#000"/>
<rect x="855.0" y="1296.8" width="32" height="32" fill="#000"/>
<rect x="861.0" y="1335.3" width="32" height="32" fill="#000"/>
<rect x="908.0" y="1373.8" width="32" height="32" fill="#000"/>
<rect x="929.5" y="1412.2" width="32" height="32" fill="#000"/>
<rect x="904.0" y="1450.7" width="32" height="32" fill="#000"/>
<rect x="858.5" y="1489.1" width="32" height="32" fill="#000"/>
<rect x="794.0" y="1527.5" width="32" height="32" fill="#000"/>
<rect x="720.5" y="1566.0" width="32" height="32" fill="#000"/>
<rect x="642.5" y="1604.5" width="32" height="32" fill="#000"/>
<rect x="561.0" y="1642.9" width="32" height="32" fill="#000"/>
<rect x="511.0" y="1719.8" width="32" height="32" fill="#000"/>
<rect x="521.0" y="1796.7" width="32" height="32" fill="#000"/>
<rect x="501.0" y="1873.6" width="32" height="32" fill="#000"/>
<rect x="472.0" y="1950.5" width="32" height="32" fill="#000"/>
<rect x="447.0" y="2027.4" width="32" height="32" fill="#000"/>
<rect x="422.0" y="2104.3" width="32" height="32" fill="#000"/>
<rect x="422.5" y="2181.2" width="32" height="32" fill="#000"/>
<rect x="302.0" y="2255.5" width="32" height="32" fill="#000"/>
<polyline points="1225.0,1197.5 1327.5,1236.0 1105.0,1274.4 970.0,1312.8 968.0,1351.3 1005.0,1389.8 1034.0,1428.2 1009.5,1466.7 956.0,1505.1 889.0,1543.5 799.5,1582.0 711.0,1620.5 620.0,1658.9 569.0,1735.8 580.5,1812.7 559.0,1889.6 528.0,1966.5 492.5,2043.4 464.5,2120.3 468.0,2197.2 318.0,2271.5" fill="none" stroke="#8f3a06" stroke-width="9.5" stroke-linecap="round" stroke-dasharray="25.5 23"/>
<rect x="1209.0" y="1181.5" width="32" height="32" fill="#000"/>
<rect x="1311.5" y="1220.0" width="32" height="32" fill="#000"/>
<rect x="1089.0" y="1258.4" width="32" height="32" fill="#000"/>
<rect x="954.0" y="1296.8" width="32" height="32" fill="#000"/>
<rect x="952.0" y="1335.3" width="32" height="32" fill="#000"/>
<rect x="989.0" y="1373.8" width="32" height="32" fill="#000"/>
<rect x="1018.0" y="1412.2" width="32" height="32" fill="#000"/>
<rect x="993.5" y="1450.7" width="32" height="32" fill="#000"/>
<rect x="940.0" y="1489.1" width="32" height="32" fill="#000"/>
<rect x="873.0" y="1527.5" width="32" height="32" fill="#000"/>
<rect x="783.5" y="1566.0" width="32" height="32" fill="#000"/>
<rect x="695.0" y="1604.5" width="32" height="32" fill="#000"/>
<rect x="604.0" y="1642.9" width="32" height="32" fill="#000"/>
<rect x="553.0" y="1719.8" width="32" height="32" fill="#000"/>
<rect x="564.5" y="1796.7" width="32" height="32" fill="#000"/>
<rect x="543.0" y="1873.6" width="32" height="32" fill="#000"/>
<rect x="512.0" y="1950.5" width="32" height="32" fill="#000"/>
<rect x="476.5" y="2027.4" width="32" height="32" fill="#000"/>
<rect x="448.5" y="2104.3" width="32" height="32" fill="#000"/>
<rect x="452.0" y="2181.2" width="32" height="32" fill="#000"/>
<rect x="302.0" y="2255.5" width="32" height="32" fill="#000"/>
<polyline points="1332.5,1197.5 1664.5,1236.0 1584.5,1274.4 1605.0,1312.8 1396.0,1351.3 1270.0,1389.8 1155.0,1428.2 998.0,1466.7 777.0,1505.1 663.0,1543.5 477.7,1582.0 507.5,1620.5 576.5,1658.9 611.5,1735.8 635.6,1812.7 604.0,1889.6 528.0,1966.5 483.0,2043.4 458.0,2120.3 466.0,2197.2 318.0,2271.5" fill="none" stroke="#0000ff" stroke-width="8.5" stroke-linejoin="round"/>
<polygon points="1332.5,1179.5 1348.5,1197.5 1332.5,1215.5 1316.5,1197.5" fill="#0000ff"/>
<polygon points="1664.5,1218.0 1680.5,1236.0 1664.5,1254.0 1648.5,1236.0" fill="#0000ff"/>
<polygon points="1584.5,1256.4 1600.5,1274.4 1584.5,1292.4 1568.5,1274.4" fill="#0000ff"/>
<polygon points="1605.0,1294.8 1621.0,1312.8 1605.0,1330.8 1589.0,1312.8" fill="#0000ff"/>
<polygon points="1396.0,1333.3 1412.0,1351.3 1396.0,1369.3 1380.0,1351.3" fill="#0000ff"/>
<polygon points="1270.0,1371.8 1286.0,1389.8 1270.0,1407.8 1254.0,1389.8" fill="#0000ff"/>
<polygon points="1155.0,1410.2 1171.0,1428.2 1155.0,1446.2 1139.0,1428.2" fill="#0000ff"/>
<polygon points="998.0,1448.7 1014.0,1466.7 998.0,1484.7 982.0,1466.7" fill="#0000ff"/>
<polygon points="777.0,1487.1 793.0,1505.1 777.0,1523.1 761.0,1505.1" fill="#0000ff"/>
<polygon points="663.0,1525.5 679.0,1543.5 663.0,1561.5 647.0,1543.5" fill="#0000ff"/>
<polygon points="477.7,1564.0 493.7,1582.0 477.7,1600.0 461.7,1582.0" fill="#0000ff"/>
<polygon points="507.5,1602.5 523.5,1620.5 507.5,1638.5 491.5,1620.5" fill="#0000ff"/>
<polygon points="576.5,1640.9 592.5,1658.9 576.5,1676.9 560.5,1658.9" fill="#0000ff"/>
<polygon points="611.5,1717.8 627.5,1735.8 611.5,1753.8 595.5,1735.8" fill="#0000ff"/>
<polygon points="635.6,1794.7 651.6,1812.7 635.6,1830.7 619.6,1812.7" fill="#0000ff"/>
<polygon points="604.0,1871.6 620.0,1889.6 604.0,1907.6 588.0,1889.6" fill="#0000ff"/>
<polygon points="528.0,1948.5 544.0,1966.5 528.0,1984.5 512.0,1966.5" fill="#0000ff"/>
<polygon points="483.0,2025.4 499.0,2043.4 483.0,2061.4 467.0,2043.4" fill="#0000ff"/>
<polygon points="458.0,2102.3 474.0,2120.3 458.0,2138.3 442.0,2120.3" fill="#0000ff"/>
<polygon points="466.0,2179.2 482.0,2197.2 466.0,2215.2 450.0,2197.2" fill="#0000ff"/>
<polygon points="318.0,2253.5 334.0,2271.5 318.0,2289.5 302.0,2271.5" fill="#0000ff"/>
<polyline points="835.0,1197.5 969.0,1351.3 633.5,1505.1 371.3,1658.9 346.5,1812.7 336.0,1966.5 321.6,2120.3 318.4,2270.5" fill="none" stroke="#ff0000" stroke-width="8.5" stroke-linejoin="round"/>
<circle cx="835.0" cy="1197.5" r="16" fill="#ff0000"/>
<circle cx="969.0" cy="1351.3" r="16" fill="#ff0000"/>
<circle cx="633.5" cy="1505.1" r="16" fill="#ff0000"/>
<circle cx="371.3" cy="1658.9" r="16" fill="#ff0000"/>
<circle cx="346.5" cy="1812.7" r="16" fill="#ff0000"/>
<circle cx="336.0" cy="1966.5" r="16" fill="#ff0000"/>
<circle cx="321.6" cy="2120.3" r="16" fill="#ff0000"/>
<circle cx="318.4" cy="2270.5" r="16" fill="#ff0000"/>
<rect x="1117" y="1584.5" width="793" height="718" fill="#fff" stroke="#d9d9d9" stroke-width="4"/>
<line x1="1189" y1="1652.5" x2="1392.5" y2="1652.5" stroke="#bcbcbc" stroke-width="2"/>
<line x1="1189" y1="1798" x2="1392.5" y2="1798" stroke="#000" stroke-width="9.5" stroke-linecap="round"/><rect x="1273.0" y="1780.0" width="32" height="32" fill="#000"/>
<line x1="1188.5" y1="1944" x2="1392.5" y2="1944" stroke="#8f3a06" stroke-width="9.5" stroke-linecap="round" stroke-dasharray="25.5 23"/><rect x="1273.0" y="1925.0" width="32" height="32" fill="#000"/>
<line x1="1189" y1="2086" x2="1392.5" y2="2086" stroke="#0000ff" stroke-width="9.5" stroke-linecap="round"/><polygon points="1290.0,2069.0 1303.0,2086.0 1290.0,2103.0 1277.0,2086.0" fill="#0000ff"/>
<line x1="1189" y1="2231" x2="1392.5" y2="2231" stroke="#ff0000" stroke-width="9.5" stroke-linecap="round"/><circle cx="1289.0" cy="2231.0" r="16" fill="#ff0000"/>
<text font-size="74" y="82.5"><tspan x="385" textLength="261" lengthAdjust="spacingAndGlyphs">Bending</tspan> <tspan x="668" textLength="265" lengthAdjust="spacingAndGlyphs">moment</tspan> <tspan x="955" textLength="106" lengthAdjust="spacingAndGlyphs">M3</tspan> <tspan x="1078" textLength="441" lengthAdjust="spacingAndGlyphs">(longitudinal)</tspan> <tspan x="1541" textLength="206" lengthAdjust="spacingAndGlyphs">[kNm]</tspan></text>
<text font-size="74" y="194.5"><tspan x="873" textLength="262" lengthAdjust="spacingAndGlyphs">Circular</tspan> <tspan x="1151" textLength="158" lengthAdjust="spacingAndGlyphs">piers</tspan></text>
<text x="297.0" y="322" font-size="74" text-anchor="start" textLength="36" lengthAdjust="spacingAndGlyphs">0</text>
<text x="767.0" y="322" font-size="74" text-anchor="start" textLength="144" lengthAdjust="spacingAndGlyphs">4000</text>
<text x="1286.0" y="322" font-size="74" text-anchor="start" textLength="144" lengthAdjust="spacingAndGlyphs">8000</text>
<text x="1790.0" y="322" font-size="74" text-anchor="start" textLength="180" lengthAdjust="spacingAndGlyphs">12000</text>
<text x="206" y="427" font-size="74" text-anchor="start" textLength="36" lengthAdjust="spacingAndGlyphs">8</text>
<text x="206" y="592.3" font-size="74" text-anchor="start" textLength="36" lengthAdjust="spacingAndGlyphs">6</text>
<text x="206" y="759" font-size="74" text-anchor="start" textLength="36" lengthAdjust="spacingAndGlyphs">4</text>
<text x="206" y="922" font-size="74" text-anchor="start" textLength="36" lengthAdjust="spacingAndGlyphs">2</text>
<text x="206" y="1087.8" font-size="74" text-anchor="start" textLength="36" lengthAdjust="spacingAndGlyphs">0</text>
<text x="186" y="1215.5" font-size="74" text-anchor="start" textLength="61" lengthAdjust="spacingAndGlyphs">-2</text>
<text x="186" y="1369.3" font-size="74" text-anchor="start" textLength="61" lengthAdjust="spacingAndGlyphs">-4</text>
<text x="186" y="1523.1" font-size="74" text-anchor="start" textLength="61" lengthAdjust="spacingAndGlyphs">-6</text>
<text x="186" y="1676.9" font-size="74" text-anchor="start" textLength="61" lengthAdjust="spacingAndGlyphs">-8</text>
<text x="150" y="1830.7" font-size="74" text-anchor="start" textLength="97" lengthAdjust="spacingAndGlyphs">-10</text>
<text x="150" y="1984.5" font-size="74" text-anchor="start" textLength="97" lengthAdjust="spacingAndGlyphs">-12</text>
<text x="150" y="2138.3" font-size="74" text-anchor="start" textLength="97" lengthAdjust="spacingAndGlyphs">-14</text>
<text x="150" y="2292.1000000000004" font-size="74" text-anchor="start" textLength="97" lengthAdjust="spacingAndGlyphs">-16</text>
<text x="300.0" y="2400" font-size="74" text-anchor="start" textLength="36" lengthAdjust="spacingAndGlyphs">0</text>
<text x="783.0" y="2400" font-size="74" text-anchor="start" textLength="108" lengthAdjust="spacingAndGlyphs">500</text>
<text x="1288.0" y="2400" font-size="74" text-anchor="start" textLength="144" lengthAdjust="spacingAndGlyphs">1000</text>
<text x="1809.0" y="2400" font-size="74" text-anchor="start" textLength="144" lengthAdjust="spacingAndGlyphs">1500</text>
<text x="939" y="2509" font-size="72" text-anchor="start" textLength="359" lengthAdjust="spacingAndGlyphs">Bored piles</text>
<text font-size="77" transform="translate(143,837) rotate(-90)" textLength="344" lengthAdjust="spacingAndGlyphs">Height [m]</text>
<text font-size="77" transform="translate(114,1900) rotate(-90)" textLength="329" lengthAdjust="spacingAndGlyphs">Depth [m]</text>
<text x="1415" y="1673" font-size="72" text-anchor="start" textLength="280" lengthAdjust="spacingAndGlyphs">SIM 1-30</text>
<text x="1415" y="1818.5" font-size="72" text-anchor="start" textLength="224" lengthAdjust="spacingAndGlyphs">MEAN</text>
<text x="1415" y="1963.5" font-size="72" text-anchor="start" textLength="296" lengthAdjust="spacingAndGlyphs">80% NEP</text>
<text x="1415" y="2105" font-size="72" text-anchor="start" textLength="431" lengthAdjust="spacingAndGlyphs">Deterministic</text>
<text x="1415" y="2250.5" font-size="72" text-anchor="start" textLength="337" lengthAdjust="spacingAndGlyphs">EC Design</text>
</svg></body></html>
